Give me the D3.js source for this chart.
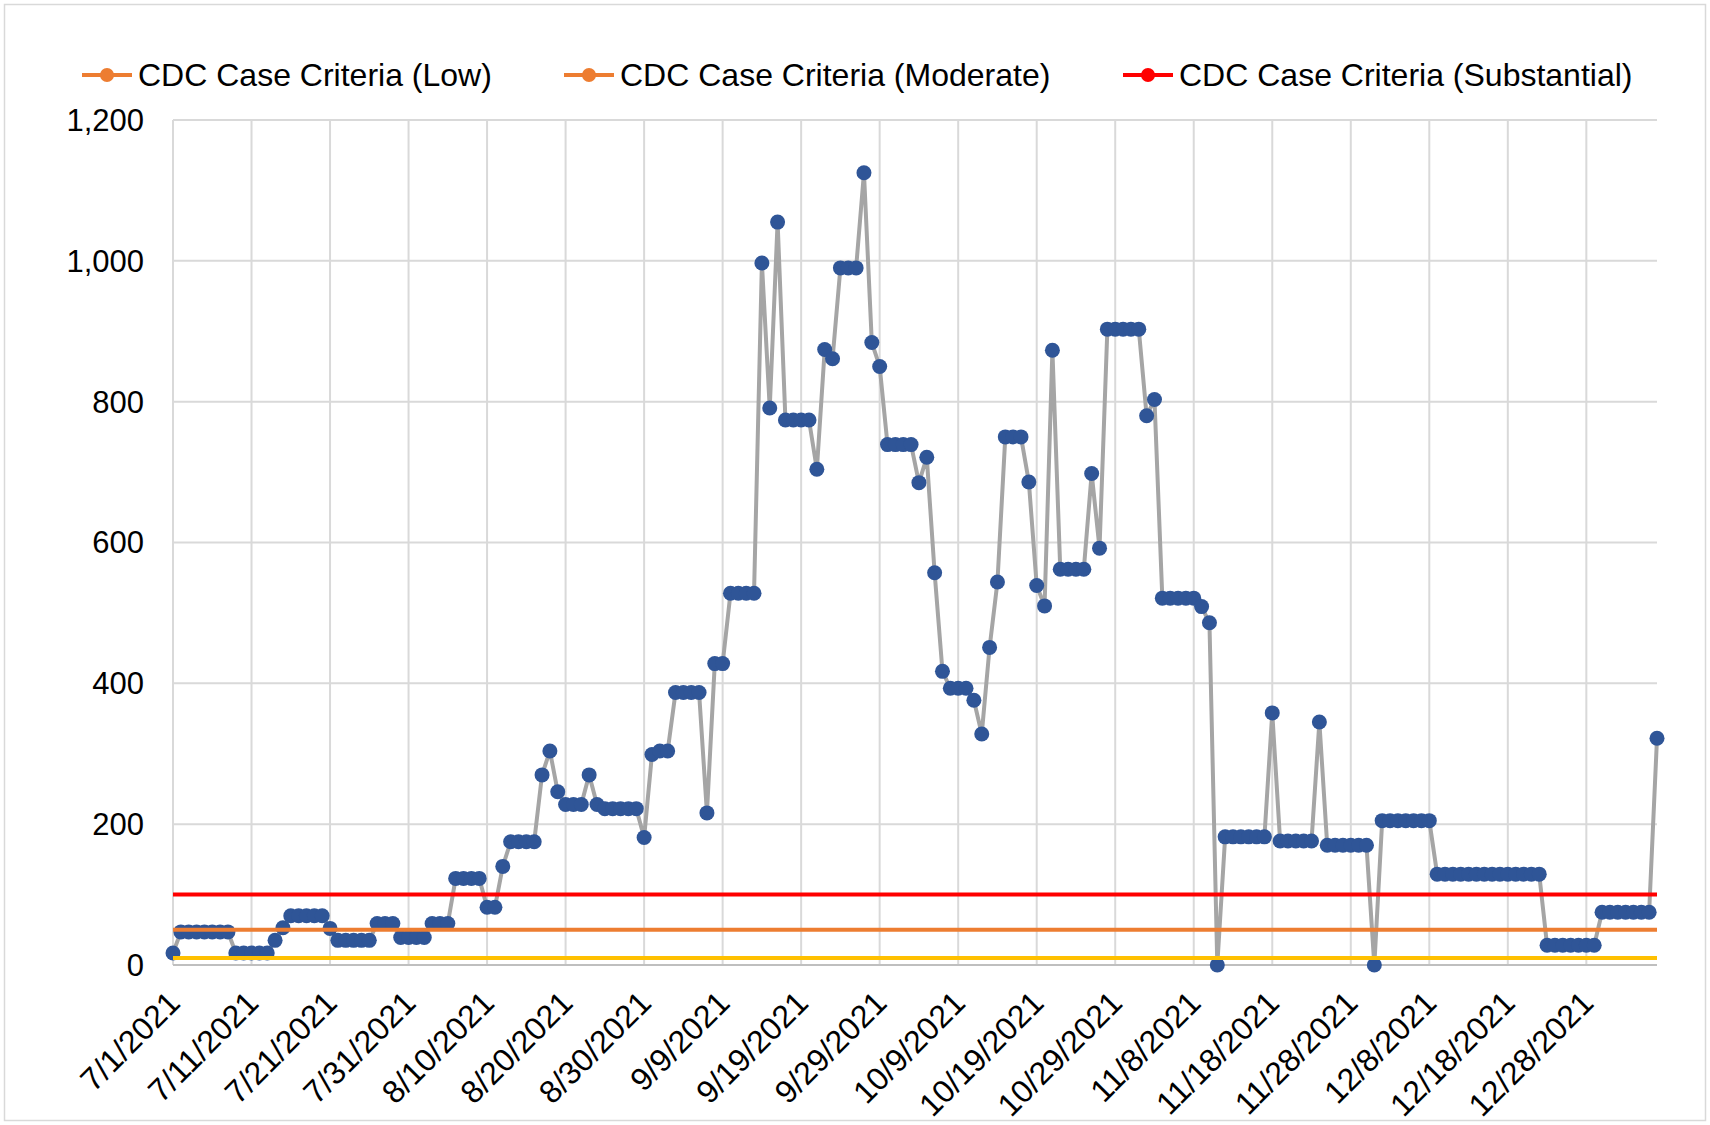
<!DOCTYPE html>
<html>
<head>
<meta charset="utf-8">
<script src="https://cdnjs.cloudflare.com/ajax/libs/d3/7.8.5/d3.min.js"></script>
<style>
  body { margin: 0; background: #fff; }
  text { font-family: "Liberation Sans", Arial, sans-serif; fill: #000; }
</style>
</head>
<body>
<svg id="chart" width="1710" height="1125"></svg>
<script>
// daily values, 7/1/2021 onward
var startDate = "7/1/2021";
var cases = [
  17, 47, 47, 47, 47, 47, 47, 47, 17, 17,
  17, 17, 17, 35, 53, 70, 70, 70, 70, 70,
  52, 35, 35, 35, 35, 35, 59, 59, 59, 39,
  39, 39, 39, 59, 59, 59, 123, 123, 123, 123,
  82, 82, 140, 175, 175, 175, 175, 270, 304, 246,
  228, 228, 228, 270, 228, 222, 222, 222, 222, 222,
  181, 299, 304, 304, 387, 387, 387, 387, 216, 428,
  428, 528, 528, 528, 528, 997, 791, 1055, 774, 774,
  774, 774, 704, 874, 861, 990, 990, 990, 1125, 884,
  850, 739, 739, 739, 739, 685, 721, 557, 417, 393,
  393, 393, 376, 328, 451, 544, 750, 750, 750, 686,
  539, 510, 873, 562, 562, 562, 562, 698, 592, 903,
  903, 903, 903, 903, 780, 803, 521, 521, 521, 521,
  521, 509, 486, 0, 182, 182, 182, 182, 182, 182,
  358, 176, 176, 176, 176, 176, 345, 170, 170, 170,
  170, 170, 170, 0, 205, 205, 205, 205, 205, 205,
  205, 129, 129, 129, 129, 129, 129, 129, 129, 129,
  129, 129, 129, 129, 129, 28, 28, 28, 28, 28,
  28, 28, 75, 75, 75, 75, 75, 75, 75, 322
];
var xTickLabels = ["7/1/2021", "7/11/2021", "7/21/2021", "7/31/2021", "8/10/2021",
  "8/20/2021", "8/30/2021", "9/9/2021", "9/19/2021", "9/29/2021", "10/9/2021",
  "10/19/2021", "10/29/2021", "11/8/2021", "11/18/2021", "11/28/2021",
  "12/8/2021", "12/18/2021", "12/28/2021"];
var yTicks = [0, 200, 400, 600, 800, 1000, 1200];
var criteriaNames = ["CDC Case Criteria (Low)", "CDC Case Criteria (Moderate)", "CDC Case Criteria (Substantial)"];
var criteriaValues = [10, 50, 100];

buildChart();

function buildChart() {
  var parse = d3.utcParse("%m/%d/%Y");
  var start = parse(startDate);
  var series = cases.map(function(v, i) {
    return {date: d3.utcDay.offset(start, i), value: v};
  });

  var lineColors = ["#FFC000", "#ED7D31", "#FF0000"];
  var legendColors = ["#ED7D31", "#ED7D31", "#FF0000"];

  var svg = d3.select("#chart");
  var left = 173, right = 1657, top = 120, bottom = 965;

  var x = d3.scaleUtc()
    .domain([start, series[series.length - 1].date])
    .range([left, right]);
  var y = d3.scaleLinear()
    .domain([0, 1200])
    .range([bottom, top]);

  // chart border
  svg.append("rect")
    .attr("x", 4.5).attr("y", 4.5)
    .attr("width", 1701).attr("height", 1116)
    .attr("fill", "#fff")
    .attr("stroke", "#d9d9d9")
    .attr("stroke-width", 1.5);

  var tickDates = xTickLabels.map(parse);

  // grid
  svg.append("g").selectAll("line")
    .data(yTicks.slice(1))
    .enter().append("line")
    .attr("x1", left).attr("x2", right)
    .attr("y1", function(d) { return y(d); })
    .attr("y2", function(d) { return y(d); })
    .attr("stroke", "#d9d9d9")
    .attr("stroke-width", 2);
  svg.append("g").selectAll("line")
    .data(tickDates)
    .enter().append("line")
    .attr("x1", function(d) { return x(d); })
    .attr("x2", function(d) { return x(d); })
    .attr("y1", top).attr("y2", bottom)
    .attr("stroke", "#d9d9d9")
    .attr("stroke-width", 2);

  // bottom axis line
  svg.append("line")
    .attr("x1", left).attr("x2", right)
    .attr("y1", bottom).attr("y2", bottom)
    .attr("stroke", "#bfbfbf")
    .attr("stroke-width", 2);

  // y labels
  svg.append("g").selectAll("text")
    .data(yTicks)
    .enter().append("text")
    .attr("x", 144)
    .attr("y", function(d) { return y(d); })
    .attr("dy", "0.35em")
    .attr("text-anchor", "end")
    .style("font-size", "31px")
    .text(d3.format(","));

  // x labels
  svg.append("g").selectAll("text")
    .data(tickDates)
    .enter().append("text")
    .attr("transform", function(d) { return "translate(" + (x(d) + 1) + "," + (bottom + 32) + ") rotate(-45)"; })
    .attr("dy", "0.35em")
    .attr("text-anchor", "end")
    .style("font-size", "32px")
    .text(function(d, i) { return xTickLabels[i]; });

  // cases line + markers
  var line = d3.line()
    .x(function(d) { return x(d.date); })
    .y(function(d) { return y(d.value); });

  svg.append("path")
    .datum(series)
    .attr("d", line)
    .attr("fill", "none")
    .attr("stroke", "#A5A5A5")
    .attr("stroke-width", 4)
    .attr("stroke-linejoin", "round");

  svg.append("g").selectAll("circle")
    .data(series)
    .enter().append("circle")
    .attr("cx", function(d) { return x(d.date); })
    .attr("cy", function(d) { return y(d.value); })
    .attr("r", 7.5)
    .attr("fill", "#2F5597");

  // criteria lines on top
  svg.append("g").selectAll("line")
    .data(criteriaValues)
    .enter().append("line")
    .attr("x1", left).attr("x2", right)
    .attr("y1", function(d) { return y(d); })
    .attr("y2", function(d) { return y(d); })
    .attr("stroke", function(d, i) { return lineColors[i]; })
    .attr("stroke-width", 4);

  // legend
  var legendX = [82, 564, 1123];
  var legend = svg.append("g").selectAll("g")
    .data(criteriaNames)
    .enter().append("g")
    .attr("transform", function(d, i) { return "translate(" + legendX[i] + ",75)"; });
  legend.append("line")
    .attr("x1", 0).attr("x2", 50)
    .attr("stroke", function(d, i) { return legendColors[i]; })
    .attr("stroke-width", 4);
  legend.append("circle")
    .attr("cx", 25).attr("r", 7)
    .attr("fill", function(d, i) { return legendColors[i]; });
  legend.append("text")
    .attr("x", 56)
    .attr("dy", "0.35em")
    .style("font-size", "32px")
    .text(function(d) { return d; });
}
</script>
</body>
</html>
